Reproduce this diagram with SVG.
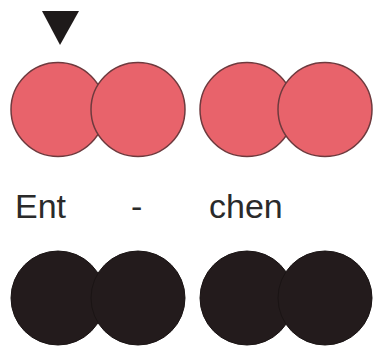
<svg xmlns="http://www.w3.org/2000/svg" width="374" height="349" viewBox="0 0 374 349">
<style>
.red{fill:#e8636b;stroke:#6e3a3e;stroke-width:1.5}
.blk{fill:#231b1c;stroke:#1a1414;stroke-width:1}
.lbl{font-family:"Liberation Sans",Arial,sans-serif;font-size:34px;fill:#2a2a2a}
</style>
<rect width="374" height="349" fill="#ffffff"/>
<g id="marker"><polygon points="42,11 79,11 60,45" fill="#1e1a1a"/></g>
<g id="red-syllable-1">
<circle class="red" cx="58" cy="109.5" r="47"/>
<circle class="red" cx="138" cy="109.5" r="47"/>
</g>
<g id="red-syllable-2">
<circle class="red" cx="247" cy="109.5" r="47"/>
<circle class="red" cx="325" cy="109.5" r="47"/>
</g>
<g id="labels">
<text class="lbl" x="15" y="218">Ent</text>
<text class="lbl" x="131" y="218">-</text>
<text class="lbl" x="209" y="218">chen</text>
</g>
<g id="black-syllable-1">
<circle class="blk" cx="58" cy="298" r="47"/>
<circle class="blk" cx="138" cy="298" r="47"/>
</g>
<g id="black-syllable-2">
<circle class="blk" cx="247" cy="298" r="47"/>
<circle class="blk" cx="325" cy="298" r="47"/>
</g>
<g id="connectors"/>
</svg>
